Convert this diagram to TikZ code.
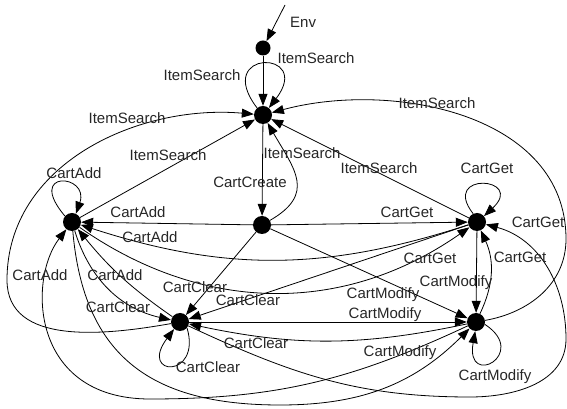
\documentclass[tikz,border=0pt]{standalone}
\usepackage{fontspec}
\setmainfont{Liberation Sans}
\usetikzlibrary{arrows.meta}
\begin{document}
\begin{tikzpicture}[x=1pt,y=1pt,
  st/.style={circle,fill=black,inner sep=0pt,minimum size=18pt},
  stzero/.style={circle,fill=black,inner sep=0pt,minimum size=15pt},
  lbl/.style={font=\fontsize{15}{17}\selectfont,inner sep=0pt,text=black!85},
  tr/.style={-{Triangle[length=12pt,width=9pt]},line width=0.8pt},
]
\useasboundingbox (0,0) rectangle (567,409);
% states
\node[stzero] (S0) at (263,361) {};
\node[st] (S1) at (263,294) {};
\node[st] (S2) at (262,184) {};
\node[st] (A) at (72,187) {};
\node[st] (G) at (477,187) {};
\node[st] (C) at (180,87) {};
\node[st] (M) at (476,87) {};
\coordinate (E0) at (285,404);
% ItemSearch
\draw[tr] (E0) -- (S0);
\draw[tr] (S0) -- (S1);
\draw[tr] (S1.130) .. controls (212,360) and (314,360) .. (S1.50);
\draw[tr] (S2) to[out=30,in=-60,looseness=1.4] (S1);
\draw[tr] (A) -- (S1);
\draw[tr] (G) -- (S1);
\draw[tr] (C) to[out=190,in=-90] (7,129) to[out=90,in=175] (S1);
\draw[tr] (M) to[out=10,in=-90] (566,170) to[out=90,in=15] (S1);
% CartCreate
\draw[tr] (S1) -- (S2);
% CartAdd
\draw[tr] (A.140) .. controls (25,240) and (90,235) .. (A.65);
\draw[tr] (S2) -- (A);
\draw[tr] (G) to[bend left=18] (A);
\draw[tr] (C) to[bend left=8] (A);
\draw[tr] (M) to[out=-155,in=0] (150,10) .. controls (30,10) and (28,130) .. (A);
% CartGet
\draw[tr] (G.115) .. controls (440,238) and (526,232) .. (G.40);
\draw[tr] (S2) -- (G);
\draw[tr] (A) to[bend right=35] (G);
\draw[tr] (M) to[bend right=25] (G);
\draw[tr] (C) to[out=-25,in=180] (470,12) to[out=0,in=-90] (566,70) to[out=90,in=-15] (G);
% CartClear
\draw[tr] (C.-40) .. controls (202,30) and (138,32) .. (C.-130);
\draw[tr] (S2) -- (C);
\draw[tr] (G) -- (C);
\draw[tr] (A) to[bend right=30] (C);
\draw[tr] (M) to[bend left=12] (C);
% CartModify
\draw[tr] (M.-15) .. controls (530,55) and (465,20) .. (M.-95);
\draw[tr] (S2) -- (M);
\draw[tr] (G) -- (M);
\draw[tr] (C) -- (M);
\draw[tr] (A) to[out=-85,in=180,looseness=1.2] (280,4) to[out=0,in=-135] (M);
% labels
\node[lbl,anchor=west] (lEnv) at (290,387) {Env};
\node[lbl] (l01) at (316,351) {ItemSearch};
\node[lbl] (l02) at (202,334) {ItemSearch};
\node[lbl] (l03) at (250,227) {CartCreate};
\node[lbl] (l04) at (302,256) {ItemSearch};
\node[lbl] (l05) at (168,254) {ItemSearch};
\node[lbl] (l06) at (379,241) {ItemSearch};
\node[lbl] (l07) at (127,291) {ItemSearch};
\node[lbl] (l08) at (437,306) {ItemSearch};
\node[lbl] (l09) at (74,236) {CartAdd};
\node[lbl] (l10) at (138,197) {CartAdd};
\node[lbl] (l11) at (150,172) {CartAdd};
\node[lbl] (l12) at (115,134) {CartAdd};
\node[lbl] (l13) at (40,134) {CartAdd};
\node[lbl] (l14) at (118,102) {CartClear};
\node[lbl] (l15) at (407,197) {CartGet};
\node[lbl] (l16) at (487,241) {CartGet};
\node[lbl] (l17) at (538,187) {CartGet};
\node[lbl] (l18) at (520,152) {CartGet};
\node[lbl] (l19) at (430,151) {CartGet};
\node[lbl] (l20) at (456,126) {CartModify};
\node[lbl] (l21) at (195,122) {CartClear};
\node[lbl] (l22) at (248,109) {CartClear};
\node[lbl] (l23) at (256,66) {CartClear};
\node[lbl] (l24) at (208,42) {CartClear};
\node[lbl] (l25) at (383,114) {CartModify};
\node[lbl] (l26) at (385,94) {CartModify};
\node[lbl] (l27) at (400,56) {CartModify};
\node[lbl] (l28) at (495,32) {CartModify};
\end{tikzpicture}
\end{document}
